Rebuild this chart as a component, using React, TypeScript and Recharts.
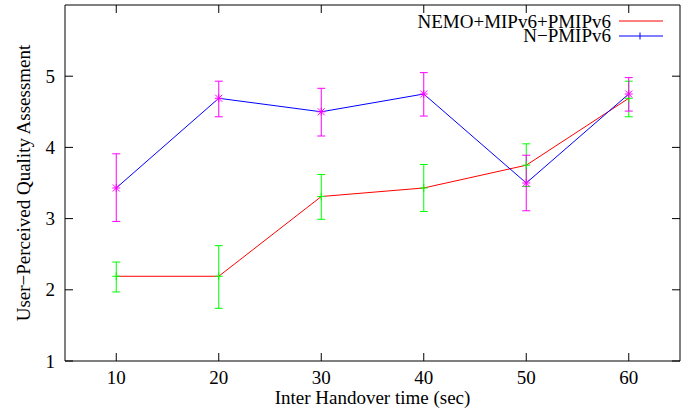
import React from "react";
import { ComposedChart, Line, XAxis, YAxis, ErrorBar, Legend } from "recharts";

const handoverTimes = [10, 20, 30, 40, 50, 60];

// NEMO+MIPv6+PMIPv6
const nemoMean = [2.19, 2.19, 3.31, 3.43, 3.75, 4.69];
const nemoLow = [1.97, 1.74, 2.99, 3.1, 3.45, 4.43];
const nemoHigh = [2.39, 2.62, 3.62, 3.76, 4.05, 4.93];

// N-PMIPv6
const npmMean = [3.43, 4.69, 4.5, 4.75, 3.5, 4.75];
const npmLow = [2.96, 4.43, 4.16, 4.44, 3.11, 4.51];
const npmHigh = [3.91, 4.93, 4.83, 5.05, 3.89, 4.98];

const xTicks = [10, 20, 30, 40, 50, 60];
const yTicks = [1, 2, 3, 4, 5];

const data = handoverTimes.map((t, i) => ({
  t,
  nemo: nemoMean[i],
  nemoErr: [nemoMean[i] - nemoLow[i], nemoHigh[i] - nemoMean[i]],
  npm: npmMean[i],
  npmErr: [npmMean[i] - npmLow[i], npmHigh[i] - npmMean[i]],
}));

const FONT = "'Liberation Serif', 'Times New Roman', serif";
const FS = 19;
const TICK = 8;

// gnuplot-style ticks: drawn inward from the axis line
const BottomTick = (p: any) => (
  <g>
    <line x1={p.x} y1={p.y} x2={p.x} y2={p.y - TICK} stroke="#000" />
    <text x={p.x} y={p.y + 23} textAnchor="middle" fontFamily={FONT} fontSize={FS} fill="#000">
      {p.payload.value}
    </text>
  </g>
);
const LeftTick = (p: any) => (
  <g>
    <line x1={p.x} y1={p.y} x2={p.x + TICK} y2={p.y} stroke="#000" />
    <text x={p.x - 10} y={p.y} dy="0.35em" textAnchor="end" fontFamily={FONT} fontSize={FS} fill="#000">
      {p.payload.value}
    </text>
  </g>
);
const TopTick = (p: any) => <line x1={p.x} y1={p.y} x2={p.x} y2={p.y + TICK} stroke="#000" />;
const RightTick = (p: any) => <line x1={p.x} y1={p.y} x2={p.x - TICK} y2={p.y} stroke="#000" />;

const PlusDot = (props: any) => {
  const { cx, cy, index } = props;
  if (cx == null || cy == null) return <g key={index} />;
  return (
    <g key={index} stroke="#00ff00" strokeWidth={1}>
      <line x1={cx - 4} y1={cy} x2={cx + 4} y2={cy} />
      <line x1={cx} y1={cy - 4} x2={cx} y2={cy + 4} />
    </g>
  );
};

const StarDot = (props: any) => {
  const { cx, cy, index } = props;
  if (cx == null || cy == null) return <g key={index} />;
  return (
    <g key={index} stroke="#ff00ff" strokeWidth={1}>
      <line x1={cx - 4} y1={cy} x2={cx + 4} y2={cy} />
      <line x1={cx} y1={cy - 4} x2={cx} y2={cy + 4} />
      <line x1={cx - 3.5} y1={cy - 3.5} x2={cx + 3.5} y2={cy + 3.5} />
      <line x1={cx - 3.5} y1={cy + 3.5} x2={cx + 3.5} y2={cy - 3.5} />
    </g>
  );
};

const KeyBox = () => (
  <svg width={300} height={46} style={{ display: "block" }}>
    <g fontFamily={FONT} fontSize={FS} fill="#000" textAnchor="end">
      <text x={231} y={21} dy="0.35em">NEMO+MIPv6+PMIPv6</text>
      <text x={231} y={35} dy="0.35em">N−PMIPv6</text>
    </g>
    <line x1={239} y1={21} x2={283} y2={21} stroke="#ff0000" strokeWidth={1} />
    <line x1={239} y1={36} x2={283} y2={36} stroke="#0000ff" strokeWidth={1} />
    <line x1={260} y1={32.5} x2={260} y2={39.5} stroke="#0000ff" strokeWidth={1} />
  </svg>
);

export default function App() {
  return (
    <div style={{ position: "absolute", left: 0, top: 0, background: "#fff" }}>
      <ComposedChart
        width={694}
        height={414}
        data={data}
        margin={{ top: 4, right: 13, bottom: 0, left: 0 }}
      >
        <XAxis
          dataKey="t"
          type="number"
          domain={[5, 65]}
          ticks={xTicks}
          height={53}
          tick={BottomTick}
          tickSize={0}
          tickMargin={0}
          tickLine={false}
          axisLine={{ stroke: "#000" }}
          label={{
            content: ({ viewBox }: any) => (
              <text
                x={viewBox.x + viewBox.width / 2}
                y={viewBox.y + 43}
                textAnchor="middle"
                fontFamily={FONT}
                fontSize={FS}
                fill="#000"
              >
                Inter Handover time (sec)
              </text>
            ),
          }}
        />
        <XAxis
          xAxisId="top"
          orientation="top"
          dataKey="t"
          type="number"
          domain={[5, 65]}
          ticks={xTicks}
          height={1}
          tick={TopTick}
          tickSize={0}
          tickMargin={0}
          tickLine={false}
          axisLine={{ stroke: "#000" }}
        />
        <YAxis
          type="number"
          domain={[1, 6]}
          ticks={yTicks}
          width={65}
          tick={LeftTick}
          tickSize={0}
          tickMargin={0}
          tickLine={false}
          axisLine={{ stroke: "#000" }}
          label={{
            content: ({ viewBox }: any) => {
              const cx = 23;
              const cy = viewBox.y + viewBox.height / 2;
              return (
                <text
                  x={cx}
                  y={cy}
                  transform={`rotate(-90 ${cx} ${cy})`}
                  textAnchor="middle"
                  dy="0.35em"
                  fontFamily={FONT}
                  fontSize={FS}
                  fill="#000"
                >
                  User−Perceived Quality Assessment
                </text>
              );
            },
          }}
        />
        <YAxis
          yAxisId="right"
          orientation="right"
          type="number"
          domain={[1, 6]}
          ticks={yTicks}
          width={1}
          tick={RightTick}
          tickSize={0}
          tickMargin={0}
          tickLine={false}
          axisLine={{ stroke: "#000" }}
        />
        <Legend
          layout="horizontal"
          verticalAlign="middle"
          align="center"
          wrapperStyle={{ top: 0, left: 380, width: 300 }}
          content={() => <KeyBox />}
        />
        <Line
          dataKey="nemo"
          stroke="#ff0000"
          strokeWidth={1}
          dot={PlusDot}
          activeDot={false}
          isAnimationActive={false}
        >
          <ErrorBar dataKey="nemoErr" direction="y" width={4} stroke="#00ff00" strokeWidth={1} />
        </Line>
        <Line
          dataKey="npm"
          xAxisId="top"
          yAxisId="right"
          stroke="#0000ff"
          strokeWidth={1}
          dot={StarDot}
          activeDot={false}
          isAnimationActive={false}
        >
          <ErrorBar dataKey="npmErr" direction="y" width={4} stroke="#ff00ff" strokeWidth={1} />
        </Line>
      </ComposedChart>
    </div>
  );
}
